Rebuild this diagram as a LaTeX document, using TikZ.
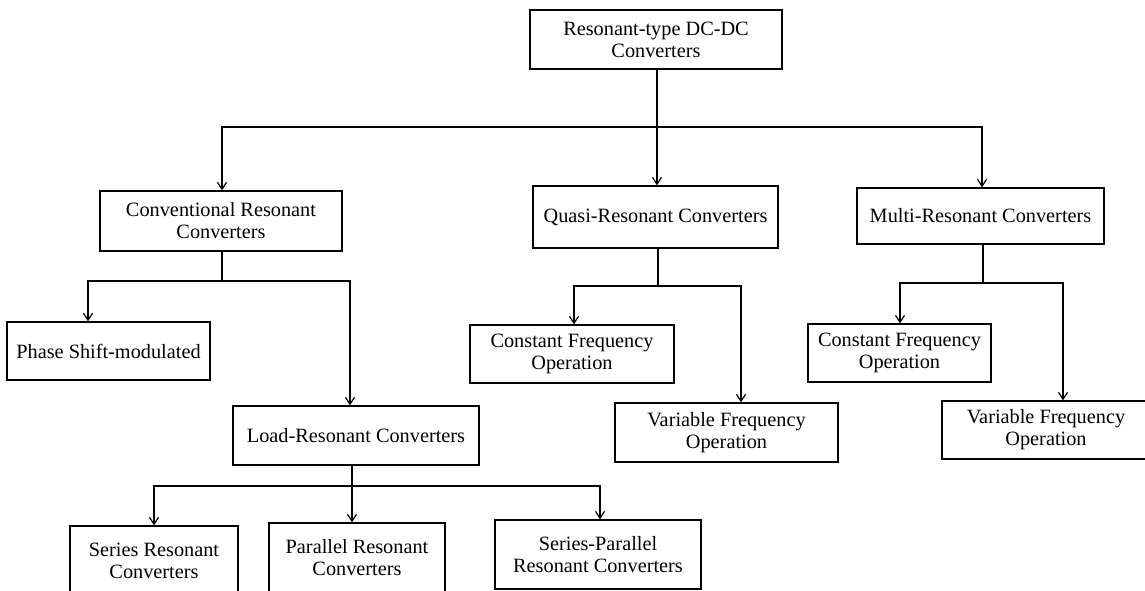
\documentclass[tikz,border=0pt]{standalone}
\usepackage{fontspec}
\setmainfont{Liberation Serif}
\usetikzlibrary{arrows.meta,calc}
\begin{document}
\begin{tikzpicture}[x=1pt,y=-1pt,
  box/.style={draw=black, line width=1.2pt, inner sep=0pt, align=center,
    font=\fontsize{20.3}{22}\selectfont, text=black},
  conn/.style={draw=black, line width=1.2pt},
  arr/.style={conn, -{Straight Barb[length=7pt,width=9pt,line width=1.2pt]}}]
\clip (0,0) rectangle (1145,591);
\fill[white] (0,0) rectangle (1145,591);

% boxes
\node[box, minimum width=252pt, minimum height=59pt] (top) at (656,39.5) {Resonant-type DC-DC\\Converters};
\node[box, minimum width=242pt, minimum height=60pt] (conv) at (221,221) {Conventional Resonant\\Converters};
\node[box, minimum width=245pt, minimum height=62pt] (quasi) at (655.5,217) {Quasi-Resonant Converters};
\node[box, minimum width=247pt, minimum height=56pt] (multi) at (980.5,216) {Multi-Resonant Converters};
\node[box, minimum width=203pt, minimum height=58pt] (phase) at (108.5,351) {Phase Shift-modulated};
\node[box, minimum width=246pt, minimum height=59pt] (load) at (356,435.5) {Load-Resonant Converters};
\node[box, minimum width=204pt, minimum height=58pt] (qconst) at (572,354) {Constant Frequency\\Operation};
\node[box, minimum width=223pt, minimum height=59pt] (qvar) at (726.5,432.5) {Variable Frequency\\Operation};
\node[box, minimum width=183pt, minimum height=58pt] (mconst) at (899.5,353) {Constant Frequency\\Operation};
\node[box, minimum width=208pt, minimum height=58pt] (mvar) at (1046,430) {Variable Frequency\\Operation};
\node[box, minimum width=168pt, minimum height=70pt] (series) at (154,561) {Series Resonant\\Converters};
\node[box, minimum width=176pt, minimum height=70pt] (parallel) at (357,558) {Parallel Resonant\\Converters};
\node[box, minimum width=206pt, minimum height=69pt] (sp) at (598,554.5) {Series-Parallel\\Resonant Converters};

% level 1
\coordinate (j1) at (657,127);
\coordinate (l1) at (222,127);
\coordinate (r1) at (982,127);
\draw[conn] (top.south -| j1) -- (j1);
\draw[arr] (j1) -- (j1 |- quasi.north);
\draw[arr] (j1) -- (l1) -- (l1 |- conv.north);
\draw[arr] (j1) -- (r1) -- (r1 |- multi.north);

% conventional
\coordinate (j2) at (222,281);
\coordinate (l2) at (88,281);
\coordinate (r2) at (350,281);
\draw[conn] (j2 |- conv.south) -- (j2);
\draw[arr] (j2) -- (l2) -- (l2 |- phase.north);
\draw[arr] (j2) -- (r2) -- (r2 |- load.north);

% quasi
\coordinate (j3) at (658,286);
\coordinate (l3) at (574,286);
\coordinate (r3) at (741,286);
\draw[conn] (j3 |- quasi.south) -- (j3);
\draw[arr] (j3) -- (l3) -- (l3 |- qconst.north);
\draw[arr] (j3) -- (r3) -- (r3 |- qvar.north);

% multi
\coordinate (j4) at (983,283);
\coordinate (l4) at (900,283);
\coordinate (r4) at (1063,283);
\draw[conn] (j4 |- multi.south) -- (j4);
\draw[arr] (j4) -- (l4) -- (l4 |- mconst.north);
\draw[arr] (j4) -- (r4) -- (r4 |- mvar.north);

% load
\coordinate (j5) at (352,486);
\coordinate (l5) at (154,486);
\coordinate (r5) at (600,486);
\draw[conn] (j5 |- load.south) -- (j5);
\draw[arr] (j5) -- (j5 |- parallel.north);
\draw[arr] (j5) -- (l5) -- (l5 |- series.north);
\draw[arr] (j5) -- (r5) -- (r5 |- sp.north);
\end{tikzpicture}
\end{document}
